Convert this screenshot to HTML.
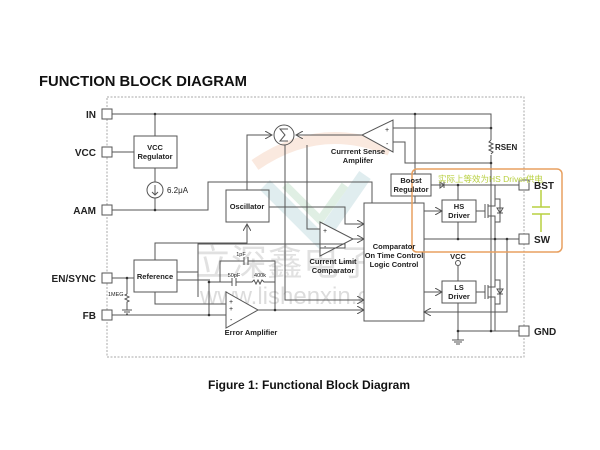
<!DOCTYPE html>
<html><head><meta charset="utf-8"><style>
html,body{margin:0;padding:0;background:#fff;}
svg{display:block;}
text{font-family:"Liberation Sans","Noto Sans CJK SC",sans-serif;fill:#222;}
</style></head><body>
<svg width="600" height="450" viewBox="0 0 600 450" xmlns="http://www.w3.org/2000/svg">
<defs>
<marker id="a" markerWidth="8" markerHeight="8" refX="7" refY="4" orient="auto" markerUnits="userSpaceOnUse"><path d="M0,0 L7,4 L0,8" fill="none" stroke="#555" stroke-width="1"/></marker>
</defs>
<g opacity="0.15">
<path d="M255,165 Q320,120 390,150" stroke="#e07030" stroke-width="12" fill="none"/>
<path d="M265,185 L320,240 L365,175" stroke="#3a8a9a" stroke-width="14" fill="none"/>
<path d="M285,185 L320,220 L345,185" stroke="#3a9a50" stroke-width="8" fill="none"/>
</g>
<text x="195" y="275" font-size="36" style="fill:#aaa" opacity="0.35">立深鑫电子</text>
<text x="200" y="304" font-size="24" font-family="Liberation Serif" style="fill:#bbb" opacity="0.5">www.lishenxin.cn</text>

<text x="39" y="86" font-size="14.8" font-weight="bold" style="fill:#111">FUNCTION BLOCK DIAGRAM</text>

<rect x="107" y="97" width="417" height="260" fill="none" stroke="#aaa" stroke-dasharray="2,1.5"/>

<g stroke="#555" stroke-width="1" fill="none">
<rect x="102" y="109" width="10" height="10" fill="#fff"/>
<rect x="102" y="147" width="10" height="10" fill="#fff"/>
<rect x="102" y="205" width="10" height="10" fill="#fff"/>
<rect x="102" y="273" width="10" height="10" fill="#fff"/>
<rect x="102" y="310" width="10" height="10" fill="#fff"/>
<rect x="519" y="180" width="10" height="10" fill="#fff"/>
<rect x="519" y="234" width="10" height="10" fill="#fff"/>
<rect x="519" y="326" width="10" height="10" fill="#fff"/>

<path d="M112,114 H491 V140"/>
<path d="M155,114 V136"/>
<path d="M415,114 V203"/>
<rect x="134" y="136" width="43" height="32"/>
<path d="M112,152 H134"/>
<path d="M155,168 V182"/>
<circle cx="155" cy="190" r="8"/>
<path d="M155,185 V195 M152,192 L155,195 L158,192"/>
<path d="M155,198 V210"/>
<path d="M112,210 H208 V182 H372 V203"/>
<rect x="226" y="190" width="43" height="32"/>
<path d="M247,190 V135 H272" marker-end="url(#a)"/>
<path d="M269,207 H345 V224 H364" marker-end="url(#a)"/>
<circle cx="284" cy="135" r="10"/>
<path d="M288,129 H280 L285,135 L280,141 H288"/>
<path d="M285,145 V300 H364" marker-end="url(#a)"/>
<path d="M362,135 H296" marker-end="url(#a)"/>
<path d="M393,120 L393,152 L362,135 Z" fill="#fff"/>
<path d="M393,128 H491"/>
<path d="M393,142 H405 V163 H491"/>
<path d="M491,155 V331"/>
<path d="M307,145 V229 H320"/>
<path d="M320,222 L320,256 L353,239 Z" fill="#fff"/>
<path d="M353,239 H364" marker-end="url(#a)"/>
<rect x="134" y="260" width="43" height="32"/>
<path d="M155,260 V243 H247 V224" marker-end="url(#a)"/>
<path d="M177,272 H198 V244 H345 V248 H320"/>
<path d="M177,280 H210"/>
<path d="M155,292 V304 H226"/>
<path d="M198,272 V297"/>
<path d="M112,278 H134"/>
<path d="M127,278 V294"/>
<path d="M127,294 l-2,1 l4,2 l-4,2 l4,2 l-2,1 V310"/>
<path d="M122,310 h10 M124,312 h6 M126,314 h2"/>
<path d="M112,315 H226"/>
<path d="M209,282 V315"/>
<path d="M226,292 L226,328 L258,310 Z" fill="#fff"/>
<path d="M258,310 H364" marker-end="url(#a)"/>
<path d="M220,282 V261 H244 M248,261 H275 V310"/>
<path d="M244,257 V265 M248,257 V265"/>
<path d="M209,282 H232 M236,282 H252 l2,-2 l2,4 l2,-4 l2,4 l2,-4 l2,2 H275"/>
<path d="M232,278 V286 M236,278 V286"/>
<rect x="364" y="203" width="60" height="118" fill="#fff"/>
<rect x="391" y="174" width="40" height="22" fill="#fff"/>
<path d="M431,185 H519"/>
<path d="M440,182 L444,185 L440,188 Z M444,182 V188"/>
<path d="M458,185 V200"/>
<rect x="442" y="200" width="34" height="22" fill="#fff"/>
<path d="M424,211 H442" marker-end="url(#a)"/>
<path d="M476,211 H485"/>
<path d="M485,204 V218 M488,204 V218 M488,206 H495 V199 M488,216 H495 V222"/>
<path d="M495,199 H500 V222 H495 M497,208 L500,213 L503,208 Z M497,213 H503"/>
<path d="M458,222 V239"/>
<path d="M424,239 H519"/>
<path d="M495,222 V239"/>
<path d="M495,185 V199"/>
<path d="M507,239 V312 H424" marker-end="url(#a)"/>
<circle cx="458" cy="263" r="2.5"/>
<path d="M458,266 V281"/>
<rect x="442" y="281" width="34" height="22" fill="#fff"/>
<path d="M424,292 H442" marker-end="url(#a)"/>
<path d="M476,292 H485"/>
<path d="M485,285 V299 M488,285 V299 M488,287 H495 V280 M488,297 H495 V304"/>
<path d="M495,280 H500 V304 H495 M497,289 L500,294 L503,289 Z M497,294 H503"/>
<path d="M495,239 V280"/>
<path d="M458,303 V340 M495,304 V331"/>
<path d="M458,331 H519"/>
<path d="M452,340 h12 M454,342 h8 M456,344 h4"/>
</g>
<path d="M491,140 l-2,2 l4,2 l-4,2 l4,2 l-4,2 l4,2 l-2,2" stroke="#555" fill="none"/>
<g fill="#333">
<circle cx="155" cy="114" r="1.3"/><circle cx="415" cy="114" r="1.3"/><circle cx="155" cy="210" r="1.3"/>
<circle cx="491" cy="128" r="1.3"/><circle cx="491" cy="163" r="1.3"/><circle cx="127" cy="278" r="1.3"/>
<circle cx="209" cy="315" r="1.3"/><circle cx="209" cy="282" r="1.3"/><circle cx="275" cy="310" r="1.3"/>
<circle cx="458" cy="185" r="1.3"/><circle cx="458" cy="239" r="1.3"/><circle cx="495" cy="239" r="1.3"/>
<circle cx="507" cy="239" r="1.3"/><circle cx="458" cy="331" r="1.3"/><circle cx="491" cy="331" r="1.3"/>
</g>
<rect x="412" y="169" width="150" height="83" rx="5" fill="none" stroke="#e8a060" stroke-width="1.5"/>
<text x="438" y="182" font-size="8.5" style="fill:#b8d040">实际上等效为HS Driver供电</text>
<path d="M541,190 V207 M532,207 H550 M532,214 H550 M541,214 V232" stroke="#b8d040" stroke-width="1.5" fill="none"/>

<g font-size="10" font-weight="bold">
<text x="96" y="118" text-anchor="end">IN</text>
<text x="96" y="156" text-anchor="end">VCC</text>
<text x="96" y="214" text-anchor="end">AAM</text>
<text x="96" y="282" text-anchor="end">EN/SYNC</text>
<text x="96" y="319" text-anchor="end">FB</text>
<text x="534" y="189">BST</text>
<text x="534" y="243">SW</text>
<text x="534" y="335">GND</text>
</g>
<g font-size="7.5" text-anchor="middle" font-weight="bold">
<text x="155" y="150">VCC</text><text x="155" y="159">Regulator</text>
<text x="247" y="209">Oscillator</text>
<text x="155" y="279">Reference</text>
<text x="411" y="183">Boost</text><text x="411" y="192">Regulator</text>
<text x="459" y="209">HS</text><text x="459" y="218">Driver</text>
<text x="459" y="290">LS</text><text x="459" y="299">Driver</text>
<text x="394" y="249">Comparator</text>
<text x="394" y="258">On Time Control</text>
<text x="394" y="267">Logic Control</text>
<text x="358" y="154">Currrent Sense</text><text x="358" y="163">Amplifer</text>
<text x="333" y="264">Current Limit</text><text x="333" y="273">Comparator</text>
<text x="251" y="335">Error Amplifier</text>
<text x="458" y="259">VCC</text>
</g>
<text x="495" y="150" font-size="8" font-weight="bold">RSEN</text>
<text x="167" y="193" font-size="8">6.2μA</text>
<text x="241" y="256" font-size="5.5" text-anchor="middle">1pF</text>
<text x="234" y="277" font-size="5.5" text-anchor="middle">50pF</text>
<text x="260" y="277" font-size="5.5" text-anchor="middle">400k</text>
<text x="108" y="296" font-size="5.5">1MEG</text>
<text x="229" y="304" font-size="7">+</text>
<text x="229" y="311" font-size="7">+</text>
<text x="230" y="322" font-size="7">-</text>
<text x="385" y="132" font-size="7">+</text><text x="386" y="146" font-size="7">-</text>
<text x="323" y="233" font-size="7">+</text><text x="324" y="249" font-size="7">-</text>

<text x="309" y="389" font-size="12" font-weight="bold" text-anchor="middle" style="fill:#111">Figure 1: Functional Block Diagram</text>
</svg>
</body></html>
